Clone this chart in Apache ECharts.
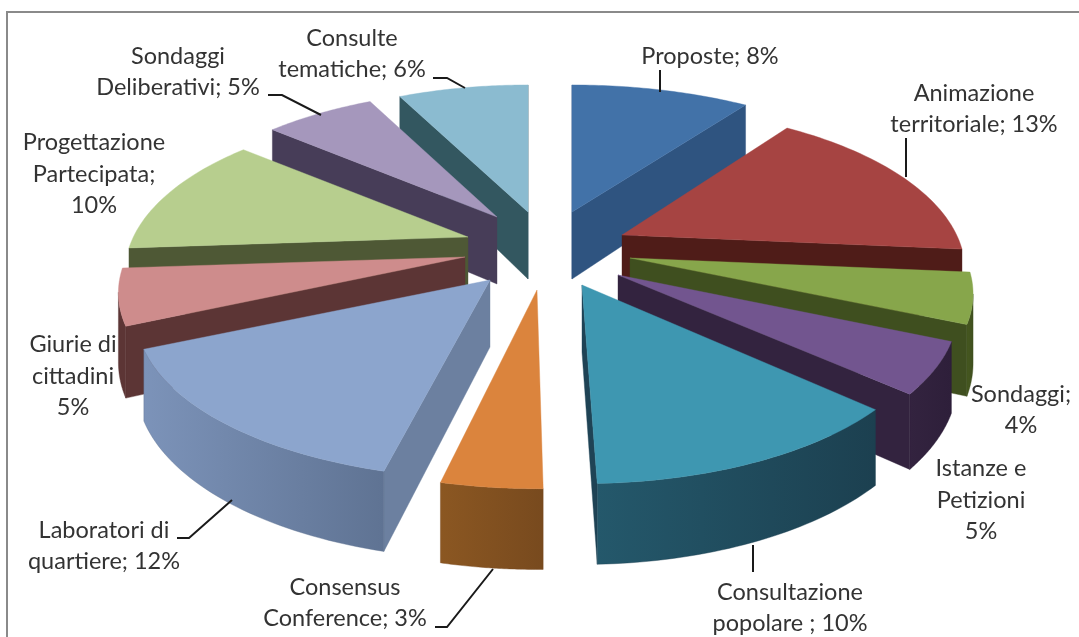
<!DOCTYPE html>
<html><head><meta charset="utf-8">
<style>html,body{margin:0;padding:0;background:#fff}#c{width:1079px;height:637px}</style>
<script src="https://cdn.jsdelivr.net/npm/echarts@6/dist/echarts.min.js"></script></head>
<body><div id="c"></div>
<script>
const categories = ['Proposte','Animazione territoriale','Sondaggi','Istanze e Petizioni','Consultazione popolare','Consensus Conference','Laboratori di quartiere','Giurie di cittadini','Progettazione Partecipata','Sondaggi Deliberativi','Consulte tematiche'];
// slice sizes (the printed labels are rounded)
const values = [8,13.4,4.05,4.5,10.1,3.6,11.7,4.5,9.9,5.18,6.07];
const labelTexts = ['Proposte; 8%','Animazione\nterritoriale; 13%','Sondaggi;\n4%','Istanze e\nPetizioni\n5%','Consultazione\npopolare ; 10%','Consensus\nConference; 3%','Laboratori di\nquartiere; 12%','Giurie di\ncittadini\n5%','Progettazione\nPartecipata;\n10%','Sondaggi\nDeliberativi; 5%','Consulte\ntematiche; 6%'];

// styling and layout, separate from the data
const topColors = ['#4272A8','#A64442','#87A64B','#72558F','#3E97B1','#DB843D','#8CA5CD','#CE8C8C','#B7CE8E','#A597BC','#8BBBD0'];
const cutColors = ['#2F5480','#4F1C18','#3F4F1F','#33233F','#1F4355','#7D4E20','#6C80A0','#5C3535','#4E5835','#473D58','#335760'];
const wallColors = [['#2F5480','#2F5480'],['#4F1C18','#4F1C18'],['#46581F','#3F4F1F'],['#33233F','#2E1F3A'],['#24586B','#1C4050'],['#8B5722','#784A1E'],['#7C93B9','#5F7393'],['#5C3535','#5C3535'],['#4E5835','#4E5835'],['#473D58','#473D58'],['#335760','#335760']];
const apexes = [[572,212],[622,235],[630,258],[618,275],[582,285],[537,290],[490,280],[465,257],[468,237],[497,217],[528,212]];
const rxScale = [1.02,0.97,0.97,0.96,0.99,1,1,0.98,0.97,0.97,0.98];
const trimDeg = [[0,0],[0,0],[0,0],[0,2],[0,0],[1.2,1.3],[0,0],[0,0],[0,0],[0,0],[0,0]];
const labelPos = [[710,56],[974,109],[1021,410],[981,500],[790,608],[345,603],[104,546],[73,376],[94,174],[178,72],[352,54]];
const leaders = [[[660,70],[660,92]],[[906,138],[906,177]],[[753,545],[753,572]],[[493,569],[447,627],[435,627]],[[232,500],[189,538],[177,538]],[[321,115],[282,95],[268,95]],[[465,88],[447,78],[433,78]]];
const paintOrder = [0,10,9,1,8,2,7,3,6,4,5];
const RX = 345, TILT = 155, PERSP = 0.22, DEPTH = 67;

const total = values.reduce((a,b)=>a+b,0);
const startAngle = i => values.slice(0,i).reduce((a,b)=>a+b,0)/total*2*Math.PI;
function outer(i, ang){
  const apex = apexes[i];
  const X = Math.sin(ang), Y = -Math.cos(ang), s = 1/(1-PERSP*Y);
  const x = apex[0]+RX*rxScale[i]*X*s, y = apex[1]+TILT*Y*s, d = DEPTH*Math.pow(s,0.75);
  return {t:[x,y], b:[x,y+d]};
}
function area(p){let a=0;for(let i=0;i<p.length;i++){const q=p[(i+1)%p.length];a+=p[i][0]*q[1]-q[0]*p[i][1];}return a;}
function poly(points, fill){return {type:'polygon',shape:{points},style:{fill,stroke:fill,lineWidth:0.4},silent:true};}

function renderSlice(params, api){
  const i = api.value(0), v = api.value(1);
  const a0 = startAngle(i) + trimDeg[i][0]*Math.PI/180;
  const a1 = startAngle(i) + v/total*2*Math.PI - trimDeg[i][1]*Math.PI/180;
  const apex = apexes[i], apexB = [apex[0],apex[1]+DEPTH];
  const n = 40, pts = [];
  for(let k=0;k<=n;k++) pts.push(outer(i,a0+(a1-a0)*k/n));
  const children = [];
  const first = pts[0], last = pts[n];
  const faces = [[apex,first.t,first.b,apexB],[last.t,apex,apexB,last.b]];
  faces.forEach(f=>{ if(area(f)<0) children.push(poly(f,cutColors[i])); });
  const tops=[], bots=[];
  for(let k=0;k<n;k++){
    const q=[pts[k].t,pts[k+1].t,pts[k+1].b,pts[k].b];
    if(area(q)<0){ if(!tops.length){tops.push(pts[k].t);bots.push(pts[k].b);} tops.push(pts[k+1].t);bots.push(pts[k+1].b); }
  }
  if(tops.length){
    const wall = tops.concat(bots.slice().reverse());
    const fill = new echarts.graphic.LinearGradient(0,0,1,0,[{offset:0,color:wallColors[i][0]},{offset:1,color:wallColors[i][1]}]);
    children.push({type:'polygon',shape:{points:wall},style:{fill,stroke:wallColors[i][1],lineWidth:0.4},silent:true});
  }
  children.push(poly([apex].concat(pts.map(p=>p.t)),topColors[i]));
  return {type:'group',children};
}

const chart = echarts.init(document.getElementById('c'));
const graphic = [
  {type:'polyline',shape:{points:[[7,637],[7,12],[1079,12]]},style:{stroke:'#8a8a8a',lineWidth:2,fill:null},silent:true}
];
leaders.forEach(l=>graphic.push({type:'polyline',shape:{points:l},style:{stroke:'#1a1a1a',lineWidth:2,fill:null},z:5,silent:true}));
labelTexts.forEach((t,i)=>graphic.push({type:'text',x:labelPos[i][0],y:labelPos[i][1],z:6,silent:true,
  style:{text:t,fill:'#333',font:'23.5px Lato',align:'center',verticalAlign:'middle',lineHeight:31.5}}));
chart.setOption({
  animation:false,
  backgroundColor:'#fff',
  graphic,
  series:[{type:'custom',coordinateSystem:'none',silent:true,renderItem:renderSlice,
    data:paintOrder.map(i=>({name:categories[i],value:[i,values[i]]}))}]
});
</script></body></html>
